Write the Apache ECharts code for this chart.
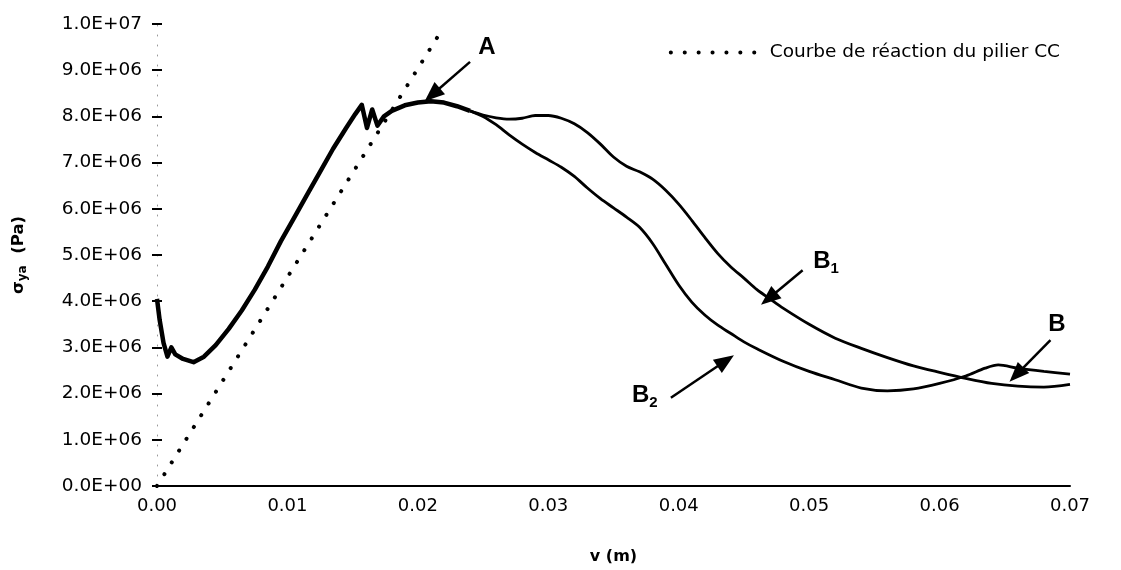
<!DOCTYPE html>
<html>
<head>
<meta charset="utf-8">
<script src="https://cdn.jsdelivr.net/npm/echarts@6/dist/echarts.min.js"></script>
<style>
html,body{margin:0;padding:0;background:#fff;}
#chart{width:1121px;height:570px;}
</style>
</head>
<body>
<div id="chart"></div>
<script>
// ---- data ----
const xTicks = [0, 0.01, 0.02, 0.03, 0.04, 0.05, 0.06, 0.07];
const reactionName = 'Courbe de réaction du pilier CC';
const reactionV = [0, 0.0218];
const reactionS = [0, 9.85e6];

const commonV = [0, 0.0002, 0.0005, 0.0008, 0.0011, 0.0014, 0.002, 0.0028, 0.0036, 0.0045, 0.0055, 0.0065, 0.0075, 0.0085, 0.0095, 0.0105, 0.0115, 0.0125, 0.0135, 0.0145, 0.0152, 0.0157, 0.0161, 0.0165, 0.0169, 0.0174, 0.018, 0.019, 0.020, 0.021, 0.022, 0.023, 0.024];
const commonS = [4.05e6, 3.6e6, 3.1e6, 2.8e6, 3.0e6, 2.85e6, 2.75e6, 2.68e6, 2.8e6, 3.05e6, 3.4e6, 3.8e6, 4.25e6, 4.75e6, 5.3e6, 5.8e6, 6.3e6, 6.8e6, 7.3e6, 7.75e6, 8.05e6, 8.25e6, 7.75e6, 8.15e6, 7.8e6, 8.0e6, 8.12e6, 8.24e6, 8.3e6, 8.33e6, 8.3e6, 8.22e6, 8.12e6];

const b1V = [0.024, 0.025, 0.026, 0.027, 0.028, 0.029, 0.030, 0.031, 0.032, 0.033, 0.034, 0.035, 0.036, 0.037, 0.038, 0.039, 0.040, 0.041, 0.042, 0.043, 0.044, 0.045, 0.046, 0.047, 0.048, 0.050, 0.052, 0.054, 0.056, 0.058, 0.060, 0.062, 0.064, 0.066, 0.068, 0.070];
const b1S = [8.12e6, 8.03e6, 7.97e6, 7.94e6, 7.96e6, 8.02e6, 8.02e6, 7.96e6, 7.84e6, 7.65e6, 7.4e6, 7.12e6, 6.92e6, 6.8e6, 6.64e6, 6.4e6, 6.1e6, 5.75e6, 5.38e6, 5.03e6, 4.74e6, 4.5e6, 4.25e6, 4.05e6, 3.85e6, 3.5e6, 3.2e6, 2.98e6, 2.78e6, 2.6e6, 2.46e6, 2.33e6, 2.22e6, 2.16e6, 2.14e6, 2.2e6];

const b2V = [0.024, 0.025, 0.026, 0.027, 0.028, 0.029, 0.030, 0.031, 0.032, 0.033, 0.034, 0.035, 0.036, 0.037, 0.038, 0.039, 0.040, 0.041, 0.042, 0.043, 0.044, 0.045, 0.046, 0.048, 0.050, 0.052, 0.054, 0.056, 0.058, 0.060, 0.062, 0.0635, 0.0645, 0.066, 0.068, 0.070];
const b2S = [8.12e6, 8.0e6, 7.82e6, 7.6e6, 7.4e6, 7.22e6, 7.06e6, 6.9e6, 6.7e6, 6.45e6, 6.22e6, 6.02e6, 5.82e6, 5.6e6, 5.25e6, 4.8e6, 4.35e6, 3.98e6, 3.7e6, 3.48e6, 3.3e6, 3.12e6, 2.97e6, 2.7e6, 2.48e6, 2.3e6, 2.12e6, 2.06e6, 2.1e6, 2.22e6, 2.38e6, 2.55e6, 2.62e6, 2.55e6, 2.48e6, 2.42e6];

// annotations: label text, label point, arrow tail, arrow head (data coords)
const annLabels = ['A', 'B1', 'B2', 'B'];
const annLabelV = [0.0253, 0.0513, 0.0374, 0.0690];
const annLabelS = [9.5e6, 4.86e6, 1.96e6, 3.5e6];
const annTailV = [0.0240, 0.0495, 0.0394, 0.0685];
const annTailS = [9.18e6, 4.67e6, 1.91e6, 3.16e6];
const annHeadV = [0.0211, 0.0469, 0.0436, 0.0659];
const annHeadS = [8.47e6, 4.06e6, 2.71e6, 2.41e6];

// ---- chart ----
const zip = (a, b) => a.map((v, i) => [v, b[i]]);
const fmtExp = v => {
  if (v === 0) return '0.0E+00';
  const e = Math.floor(Math.log10(Math.abs(v)) + 1e-9);
  const m = v / Math.pow(10, e);
  return m.toFixed(1) + 'E' + (e < 0 ? '-' : '+') + String(Math.abs(e)).padStart(2, '0');
};
const FONT = '"DejaVu Sans", Verdana, sans-serif';
const BFONT = '"Liberation Sans", Arial, sans-serif';
const labelRich = {
  big: { fontFamily: BFONT, fontSize: 24, fontWeight: 'bold', color: '#000' },
  sub: { fontFamily: BFONT, fontSize: 15, fontWeight: 'bold', color: '#000', verticalAlign: 'bottom', padding: [14, 0, 0, 0] }
};

const chart = echarts.init(document.getElementById('chart'), null, { renderer: 'canvas' });
chart.setOption({
  animation: false,
  backgroundColor: '#fff',
  grid: { left: 157, right: 51, top: 24, bottom: 81, containLabel: false },
  legend: {
    data: [reactionName],
    right: 56, top: 38,
    itemWidth: 94, itemHeight: 14, itemGap: 2,
    itemStyle: { opacity: 0, borderWidth: 0 },
    lineStyle: { color: '#000', width: 4, type: [0.1, 13.8], cap: 'round', opacity: 1 },
    textStyle: { fontFamily: FONT, fontSize: 18.5, color: '#000' }
  },
  xAxis: {
    type: 'value', min: 0, max: 0.07, interval: 0.01,
    name: 'v (m)', nameLocation: 'middle', nameGap: 63,
    nameTextStyle: { fontFamily: FONT, fontSize: 16, fontWeight: 'bold', color: '#000' },
    axisLine: { show: true, lineStyle: { color: '#000', width: 2 } },
    axisTick: { show: false },
    splitLine: { show: false },
    axisLabel: { margin: 11, fontFamily: FONT, fontSize: 18, color: '#000', formatter: v => v.toFixed(2) }
  },
  yAxis: [{
    type: 'value', min: 0, max: 1e7, interval: 1e6,
    name: '{s|σ}{sub|ya}{s|  (Pa)}', nameLocation: 'middle', nameGap: 128, nameRotate: 90,
    nameTextStyle: {
      rich: {
        s: { fontFamily: FONT, fontSize: 16.5, fontWeight: 'bold', color: '#000' },
        sub: { fontFamily: FONT, fontSize: 12, fontWeight: 'bold', color: '#000', padding: [9, 0, 0, 0] }
      }
    },
    axisLine: { show: true, lineStyle: { color: '#999', width: 1, type: [1, 9] } },
    axisTick: { show: true, length: 5, lineStyle: { color: '#000', width: 2 } },
    splitLine: { show: false },
    axisLabel: { margin: 15, fontFamily: FONT, fontSize: 18.5, color: '#000', formatter: fmtExp }
  }, {
    type: 'value', min: 0, max: 1e7, interval: 1e6, position: 'left',
    axisLine: { show: true, lineStyle: { color: '#fff', opacity: 0 } },
    axisTick: { show: true, inside: true, length: 5, lineStyle: { color: '#000', width: 2 } },
    axisLabel: { show: false },
    splitLine: { show: false }
  }],
  series: [
    {
      name: reactionName, type: 'line', data: zip(reactionV, reactionS),
      symbol: 'none',
      lineStyle: { color: '#000', width: 4, type: [0.1, 13.8], cap: 'round' },
      itemStyle: { color: '#000' }
    },
    {
      name: 'common', type: 'line', data: zip(commonV, commonS), symbol: 'none',
      lineStyle: { color: '#000', width: 4.5, join: 'round' }, smooth: false
    },
    {
      name: 'B1', type: 'line', data: zip(b1V, b1S), symbol: 'none', smooth: 0.3,
      lineStyle: { color: '#000', width: 2.8 }
    },
    {
      name: 'B2', type: 'line', data: zip(b2V, b2S), symbol: 'none', smooth: 0.3,
      lineStyle: { color: '#000', width: 2.8 },
      markLine: {
        silent: true, symbol: ['none', 'triangle'], symbolSize: [16, 20],
        label: { show: false },
        lineStyle: { color: '#000', width: 2.5, type: 'solid' },
        data: annLabels.map((t, i) => [
          { coord: [annTailV[i], annTailS[i]] },
          { coord: [annHeadV[i], annHeadS[i]] }
        ])
      },
      markPoint: {
        silent: true, symbol: 'circle', symbolSize: 1, itemStyle: { color: 'rgba(0,0,0,0)' },
        label: {
          show: true, position: 'inside', rich: labelRich,
          formatter: p => {
            const t = p.name;
            return t.length > 1 ? '{big|' + t[0] + '}{sub|' + t.slice(1) + '}' : '{big|' + t + '}';
          }
        },
        data: annLabels.map((t, i) => ({ name: t, coord: [annLabelV[i], annLabelS[i]] }))
      }
    }
  ]
});
</script>
</body>
</html>
